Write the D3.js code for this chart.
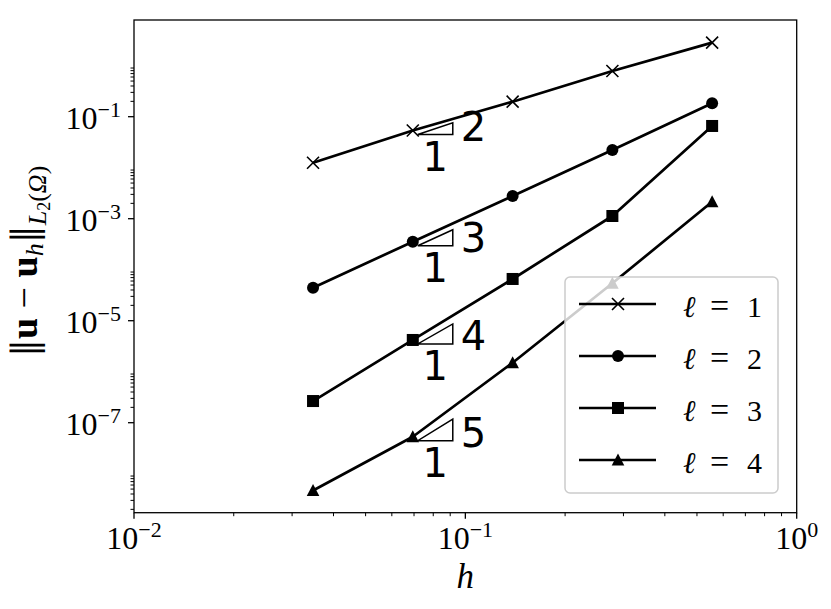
<!DOCTYPE html>
<html>
<head>
<meta charset="utf-8">
<script src="https://cdn.jsdelivr.net/npm/d3@7"></script>
<style>
  body { margin: 0; background: #fff; }
  svg { display: block; }
</style>
</head>
<body>
<div id="chart"></div>
<script>
// mesh sizes and L2 errors per polynomial degree
var hValues = [0.0347, 0.0694, 0.1389, 0.2778, 0.5556];
var errDeg1 = [0.0125, 0.0536, 0.197, 0.787, 2.83];
var errDeg2 = [4.43e-5, 3.54e-4, 2.79e-3, 0.0222, 0.183];
var errDeg3 = [2.66e-7, 4.19e-6, 6.58e-5, 1.13e-3, 0.0658];
var errDeg4 = [4.69e-9, 5.31e-8, 1.50e-6, 5.41e-5, 2.15e-3];
var degreeLabels = ["1", "2", "3", "4"];
var rateLabels = ["2", "3", "4", "5"];
var xTickExps = [-2, -1, 0];
var yTickExps = [-1, -3, -5, -7];

var width = 831, height = 609;
var margin = {left: 134, right: 34.3, top: 20, bottom: 96.3};
var plotW = width - margin.left - margin.right;
var plotH = height - margin.top - margin.bottom;

var series = [
    {label: degreeLabels[0], values: errDeg1, marker: "x"},
    {label: degreeLabels[1], values: errDeg2, marker: "o"},
    {label: degreeLabels[2], values: errDeg3, marker: "s"},
    {label: degreeLabels[3], values: errDeg4, marker: "^"}
];

var svg = d3.select("#chart").append("svg")
    .attr("width", width)
    .attr("height", height);

var x = d3.scaleLog().domain([1e-2, 1]).range([margin.left, margin.left + plotW]);
var y = d3.scaleLog().domain([1.72e-9, 7.87]).range([margin.top + plotH, margin.top]);

var serif = "'Liberation Serif', 'DejaVu Serif', serif";
var ink = "#000";

function drawMarker(g, type, size) {
    var r = size / 2;
    if (type === "x") {
        g.append("path")
            .attr("d", "M" + (-r) + "," + (-r) + "L" + r + "," + r + "M" + (-r) + "," + r + "L" + r + "," + (-r))
            .attr("stroke", ink).attr("stroke-width", 1.6).attr("fill", "none");
    } else if (type === "o") {
        g.append("circle").attr("r", r).attr("fill", ink);
    } else if (type === "s") {
        g.append("rect").attr("x", -r).attr("y", -r).attr("width", size).attr("height", size).attr("fill", ink);
    } else {
        g.append("path")
            .attr("d", "M0," + (-r * 1.1) + "L" + (r * 1.05) + "," + (r * 0.9) + "L" + (-r * 1.05) + "," + (r * 0.9) + "Z")
            .attr("fill", ink);
    }
}

// minor ticks: 2..9 for each labelled decade (matplotlib stride behaviour)
var yMinor = [];
[-1, -3, -5, -7, -9].forEach(function (e) {
    d3.range(2, 10).forEach(function (s) {
        var v = s * Math.pow(10, e);
        if (v >= y.domain()[0] && v <= y.domain()[1]) { yMinor.push(v); }
    });
});
var xMinor = [];
[-2, -1].forEach(function (e) {
    d3.range(2, 10).forEach(function (s) { xMinor.push(s * Math.pow(10, e)); });
});

var axisG = svg.append("g");
var yMaj = yTickExps.map(function (e) { return Math.pow(10, e); });
var xMaj = xTickExps.map(function (e) { return Math.pow(10, e); });

axisG.selectAll(".ymaj").data(yMaj).enter().append("line")
    .attr("x1", margin.left - 6).attr("x2", margin.left)
    .attr("y1", function (d) { return y(d); }).attr("y2", function (d) { return y(d); })
    .attr("stroke", ink).attr("stroke-width", 1.3);
axisG.selectAll(".ymin").data(yMinor).enter().append("line")
    .attr("x1", margin.left - 3.5).attr("x2", margin.left)
    .attr("y1", function (d) { return y(d); }).attr("y2", function (d) { return y(d); })
    .attr("stroke", ink).attr("stroke-width", 1);
axisG.selectAll(".xmaj").data(xMaj).enter().append("line")
    .attr("y1", margin.top + plotH).attr("y2", margin.top + plotH + 6)
    .attr("x1", function (d) { return x(d); }).attr("x2", function (d) { return x(d); })
    .attr("stroke", ink).attr("stroke-width", 1.3);
axisG.selectAll(".xmin").data(xMinor).enter().append("line")
    .attr("y1", margin.top + plotH).attr("y2", margin.top + plotH + 3.5)
    .attr("x1", function (d) { return x(d); }).attr("x2", function (d) { return x(d); })
    .attr("stroke", ink).attr("stroke-width", 1);

// tick labels 10^k
var yLab = axisG.selectAll(".ylab").data(yTickExps).enter().append("text")
    .attr("x", margin.left - 13)
    .attr("y", function (d) { return y(Math.pow(10, d)) + 12; })
    .attr("text-anchor", "end")
    .attr("font-family", serif).attr("font-size", 32).attr("fill", ink);
yLab.append("tspan").text("10");
yLab.append("tspan").attr("dy", -12).attr("font-size", 22).text(function (d) { return "\u2212" + Math.abs(d); });

var xLab = axisG.selectAll(".xlab").data(xTickExps).enter().append("text")
    .attr("x", function (d) { return x(Math.pow(10, d)); })
    .attr("y", margin.top + plotH + 36)
    .attr("text-anchor", "middle")
    .attr("font-family", serif).attr("font-size", 32).attr("fill", ink);
xLab.append("tspan").text("10");
xLab.append("tspan").attr("dy", -12).attr("font-size", 22)
    .text(function (d) { return d < 0 ? "\u2212" + Math.abs(d) : String(d); });

// axis titles
svg.append("text")
    .attr("x", x(0.1))
    .attr("y", 588)
    .attr("text-anchor", "middle")
    .attr("font-family", serif).attr("font-style", "italic").attr("font-size", 35)
    .attr("fill", ink).text("h");

var yTitle = svg.append("text")
    .attr("transform", "translate(37," + (margin.top + plotH / 2 - 5) + ") rotate(-90)")
    .attr("text-anchor", "middle")
    .attr("font-family", serif).attr("font-size", 38).attr("fill", ink);
yTitle.append("tspan").attr("font-family", "'DejaVu Serif', serif").attr("font-size", 36).text("\u2016");
yTitle.append("tspan").attr("font-weight", "bold").text("u");
yTitle.append("tspan").text(" \u2212 ");
yTitle.append("tspan").attr("font-weight", "bold").text("u");
yTitle.append("tspan").attr("font-style", "italic").attr("font-size", 26).attr("dy", 6).text("h");
yTitle.append("tspan").attr("dy", -6).attr("font-family", "'DejaVu Serif', serif").attr("font-size", 36).text("\u2016");
yTitle.append("tspan").attr("font-style", "italic").attr("font-size", 26).attr("dy", 9).text("L");
yTitle.append("tspan").attr("font-size", 18).attr("dy", 4).text("2");
yTitle.append("tspan").attr("font-size", 26).attr("dy", -4).text("(");
yTitle.append("tspan").attr("font-style", "italic").attr("font-size", 26).text("\u03A9");
yTitle.append("tspan").attr("font-size", 26).text(")");

// series lines and markers
var line = d3.line()
    .x(function (d) { return x(d[0]); })
    .y(function (d) { return y(d[1]); });

var plotG = svg.append("g");
series.forEach(function (s) {
    var pts = hValues.map(function (h, i) { return [h, s.values[i]]; });
    plotG.append("path").datum(pts)
        .attr("d", line)
        .attr("fill", "none").attr("stroke", ink).attr("stroke-width", 2.7)
        .attr("stroke-linejoin", "round");
    pts.forEach(function (p) {
        var g = plotG.append("g").attr("transform", "translate(" + x(p[0]) + "," + y(p[1]) + ")");
        drawMarker(g, s.marker, 12);
    });
});

// convergence-rate triangles at the second point of each series
var triHeights = [11.7, 16, 20, 21.7];
series.forEach(function (s, i) {
    var px = x(hValues[1]), py = y(s.values[1]);
    var left = px + 5, right = px + 40, bottom = py + 4, top = bottom - triHeights[i];
    plotG.append("path")
        .attr("d", "M" + left + "," + bottom + "L" + right + "," + bottom + "L" + right + "," + top + "Z")
        .attr("fill", "none").attr("stroke", ink).attr("stroke-width", 1.5);
    plotG.append("text")
        .attr("x", right + 8).attr("y", bottom + 6)
        .attr("font-family", "'DejaVu Sans', sans-serif").attr("font-size", 40)
        .attr("fill", ink).text(rateLabels[i]);
    plotG.append("text")
        .attr("x", (left + right) / 2).attr("y", bottom + 36)
        .attr("text-anchor", "middle")
        .attr("font-family", "'DejaVu Sans', sans-serif").attr("font-size", 40)
        .attr("fill", ink).text("1");
});

// legend
var leg = svg.append("g").attr("transform", "translate(565,277)");
leg.append("rect")
    .attr("width", 213).attr("height", 216).attr("rx", 5).attr("ry", 5)
    .attr("fill", "#fff").attr("fill-opacity", 0.8)
    .attr("stroke", "#cccccc").attr("stroke-width", 1.5);
series.forEach(function (s, i) {
    var row = leg.append("g").attr("transform", "translate(0," + (27 + i * 52) + ")");
    row.append("line").attr("x1", 14).attr("x2", 91)
        .attr("stroke", ink).attr("stroke-width", 2.7);
    drawMarker(row.append("g").attr("transform", "translate(53,0)"), s.marker, 12);
    var t = row.append("text")
        .attr("y", 13)
        .attr("font-family", serif).attr("font-size", 30).attr("fill", ink);
    t.append("tspan").attr("x", 118).attr("font-style", "italic").text("\u2113");
    t.append("tspan").attr("x", 145).attr("font-size", 34).text("=");
    t.append("tspan").attr("x", 182).text(s.label);
});

// frame
svg.append("rect")
    .attr("x", margin.left).attr("y", margin.top)
    .attr("width", plotW).attr("height", plotH)
    .attr("fill", "none").attr("stroke", ink).attr("stroke-width", 1.3);
</script>
</body>
</html>
